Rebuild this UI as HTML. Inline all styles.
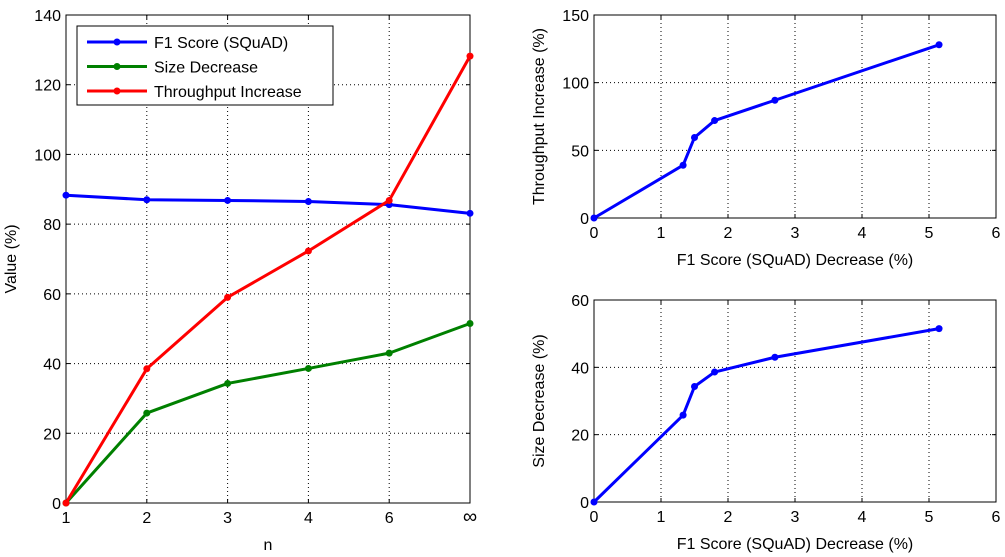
<!DOCTYPE html>
<html><head><meta charset="utf-8"><style>
body{margin:0;background:#fff;}
svg{display:block;font-family:"Liberation Sans",Arial,sans-serif;}
</style></head><body>
<svg id="fig" width="1005" height="557"></svg>
<script>
const nCats=['1','2','3','4','6','∞'];
const f1Score=[88.3,87.0,86.8,86.5,85.6,83.1];
const sizeDec=[0,25.8,34.3,38.6,43.0,51.5];
const thrInc=[0,38.5,59.0,72.3,86.8,128.2];
const f1Dec=[0,1.33,1.5,1.8,2.7,5.15];
const thrR=[0,39,59.5,72,87,128];
const sizeR=[0,25.8,34.3,38.6,43.0,51.5];
const leftYTicks=[0,20,40,60,80,100,120,140];
const rxTicks=[0,1,2,3,4,5,6];
const trYTicks=[0,50,100,150];
const brYTicks=[0,20,40,60];

const NS='http://www.w3.org/2000/svg';
const svg=document.getElementById('fig');
function mk(tag,attrs,parent,txt){const e=document.createElementNS(NS,tag);for(const k in attrs)e.setAttribute(k,attrs[k]);if(txt!==undefined)e.textContent=txt;(parent||svg).appendChild(e);return e;}

function axes(name,x0,y0,x1,y1,xs,ys,xTicks,xLabels,yTicks,xlab,ylab){
  const g=mk('g',{});
  
  
  mk('rect',{x:x0,y:y0,width:x1-x0,height:y1-y0,fill:'#fff',stroke:'none'},g);
  xTicks.forEach((t,i)=>{const x=xs(t);
    if(i>0&&i<xTicks.length-1)mk('line',{x1:x,y1:y0,x2:x,y2:y1,stroke:'#000','stroke-width':1,'stroke-dasharray':'1,3'},g);
    mk('line',{x1:x,y1:y1,x2:x,y2:y1-4,stroke:'#000'},g);mk('line',{x1:x,y1:y0,x2:x,y2:y0+4,stroke:'#000'},g);
    const t2=mk('text',{x:x,y:y1+20,'font-size':xLabels[i]==='∞'?20:16,'text-anchor':'middle'},g,xLabels[i]);
    });
  yTicks.forEach((t,i)=>{const y=ys(t);
    if(i>0&&i<yTicks.length-1)mk('line',{x1:x0,y1:y,x2:x1,y2:y,stroke:'#000','stroke-width':1,'stroke-dasharray':'1,3'},g);
    mk('line',{x1:x0,y1:y,x2:x0+4,y2:y,stroke:'#000'},g);mk('line',{x1:x1,y1:y,x2:x1-4,y2:y,stroke:'#000'},g);
    const t2=mk('text',{x:x0-5,y:y+6,'font-size':16,'text-anchor':'end'},g,String(t));
    });
  mk('rect',{x:x0,y:y0,width:x1-x0,height:y1-y0,fill:'none',stroke:'#000','stroke-width':1},g);
  const xl=mk('text',{x:(x0+x1)/2,y:y1+47,'font-size':16,'text-anchor':'middle'},g,xlab);
  
  const yl=mk('text',{x:0,y:0,'font-size':16,'text-anchor':'middle',transform:`translate(${x0-50},${(y0+y1)/2}) rotate(-90)`},g,ylab);
  
  return g;
}
function series(name,xsv,ysv,xs,ys,color){
  const g=mk('g',{});
  
  
  mk('polyline',{points:xsv.map((v,i)=>xs(v)+','+ys(ysv[i])).join(' '),fill:'none',stroke:color,'stroke-width':3,'stroke-linejoin':'round'},g);
  xsv.forEach((v,i)=>{const c=mk('circle',{cx:xs(v),cy:ys(ysv[i]),r:3.5,fill:color},g);
    });
}
const L={x0:66,y0:15,x1:470,y1:503};
const lx=i=>L.x0+(L.x1-L.x0)*i/5, ly=v=>L.y1-(L.y1-L.y0)*v/140;
const idx=[0,1,2,3,4,5];
axes('left-chart',L.x0,L.y0,L.x1,L.y1,lx,ly,idx,nCats,leftYTicks,'n','Value (%)');
series('f1-score-series',idx,f1Score,lx,ly,'#0000ff');
series('size-decrease-series',idx,sizeDec,lx,ly,'#008000');
series('throughput-series',idx,thrInc,lx,ly,'#ff0000');
const lg=mk('g',{});


mk('rect',{x:77,y:26,width:256,height:79,fill:'#fff',stroke:'#000'},lg);
[['F1 Score (SQuAD)','#0000ff'],['Size Decrease','#008000'],['Throughput Increase','#ff0000']].forEach((e,i)=>{
  const y=42+i*24.5;const eg=mk('g',{},lg);
  
  mk('line',{x1:87,y1:y,x2:147,y2:y,stroke:e[1],'stroke-width':3},eg);
  mk('circle',{cx:117,cy:y,r:3.5,fill:e[1]},eg);
  mk('text',{x:154,y:y+6,'font-size':16},eg,e[0]);
});
const T={x0:594,y0:15,x1:996,y1:218};
const rx=v=>T.x0+(T.x1-T.x0)*v/6;
const ty=v=>T.y1-(T.y1-T.y0)*v/150;
axes('top-right-chart',T.x0,T.y0,T.x1,T.y1,rx,ty,rxTicks,rxTicks.map(String),trYTicks,'F1 Score (SQuAD) Decrease (%)','Throughput Increase (%)');
series('throughput-vs-f1-series',f1Dec,thrR,rx,ty,'#0000ff');
const B={x0:594,y0:300,x1:996,y1:502};
const by=v=>B.y1-(B.y1-B.y0)*v/60;
axes('bottom-right-chart',B.x0,B.y0,B.x1,B.y1,rx,by,rxTicks,rxTicks.map(String),brYTicks,'F1 Score (SQuAD) Decrease (%)','Size Decrease (%)');
series('size-vs-f1-series',f1Dec,sizeR,rx,by,'#0000ff');
</script>
</body></html>
